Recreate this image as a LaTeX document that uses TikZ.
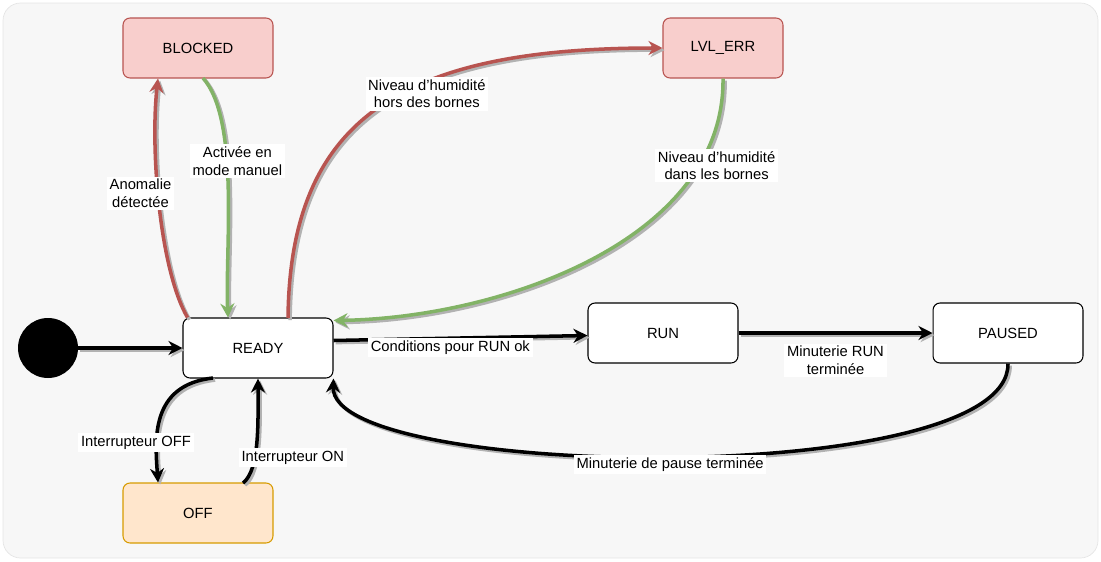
\documentclass[tikz,border=0pt]{standalone}
\usepackage{fontspec}
\setmainfont{Liberation Sans}
\usetikzlibrary{arrows.meta}
\definecolor{rd}{HTML}{B85450}\definecolor{rdf}{HTML}{F8CECC}
\definecolor{gn}{HTML}{82B366}\definecolor{og}{HTML}{D79B00}\definecolor{ogf}{HTML}{FFE6CC}
\begin{document}
\begin{tikzpicture}[x=0.02cm,y=-0.02cm,font=\fontsize{8.4pt}{10pt}\selectfont,
 st/.style={draw,rounded corners=4pt,minimum width=3cm,minimum height=1.2cm,line width=0.6pt,fill=white},
 lb/.style={fill=white,inner sep=1.5pt,align=center},
 ed/.style={line width=2pt,-{Stealth[length=8pt,width=8pt]},preaction={draw=black!30,line width=2pt,transform canvas={xshift=1.2pt,yshift=-1.2pt}}}]
\useasboundingbox (0,0) rectangle (1101,561);
\fill[black!3,draw=black!10,rounded corners=10pt] (3,3) rectangle (1098,558);
\node[st,draw=rd,fill=rdf] (blk) at (198,48) {BLOCKED};
\node[st,draw=rd,fill=rdf,minimum width=2.4cm] (lvl) at (723,48) {LVL\_ERR};
\node[st] (rdy) at (258,348) {READY};
\node[st] (run) at (663,333) {RUN};
\node[st] (pau) at (1008,333) {PAUSED};
\node[st,draw=og,fill=ogf] (off) at (198,513) {OFF};
\node[circle,fill=black,minimum size=1.2cm] (ini) at (48,348) {};
\draw[ed] (ini) -- (rdy);
\draw[ed,draw=rd] ([xshift=0.1cm]rdy.north west) .. controls (160,270) and (150,150) .. (blk.south west -| 158,78) node[lb,pos=0.55,left=-10pt] {Anomalie\\détectée};
\draw[ed,draw=gn] (203,78) .. controls (240,120) and (225,250) .. (rdy.north west -| 228,318) node[lb,pos=0.4,right=-22pt] {Activée en\\mode manuel};
\draw[ed,draw=rd] (288,318) .. controls (290,120) and (400,48) .. (lvl.west) node[lb,pos=0.62,below=-4pt] {Niveau d'humidité\\hors des bornes};
\draw[ed,draw=gn] (lvl.south) .. controls (725,240) and (500,318) .. ([yshift=-0.06cm]rdy.north east) node[lb,pos=0.2,right=-26pt] {Niveau d'humidité\\dans les bornes};
\draw[ed] ([yshift=0.15cm]rdy.east) -- ([yshift=-0.05cm]run.west) node[lb,pos=0.46,below=-1pt] {Conditions pour RUN ok};
\draw[ed] (run) -- (pau) node[lb,midway,below=5pt] {Minuterie RUN\\terminée};
\draw[ed] (pau.south) .. controls (1010,490) and (330,480) .. (rdy.south east) node[lb,pos=0.5,below=-2pt] {Minuterie de pause terminée};
\draw[ed] (213,378) .. controls (150,385) and (155,440) .. (off.north west -| 158,483) node[lb,pos=0.7,left=-22pt] {Interrupteur OFF};
\draw[ed] (243,483) .. controls (260,470) and (258,420) .. (rdy.south west -| 258,378) node[lb,pos=0.35,right=-10pt] {Interrupteur ON};
\end{tikzpicture}
\end{document}
